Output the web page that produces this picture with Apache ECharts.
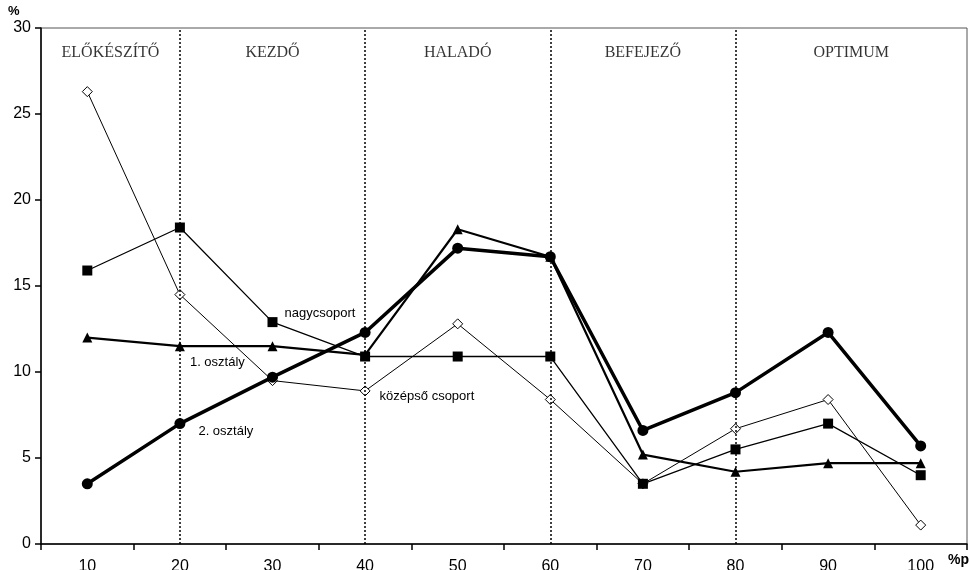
<!DOCTYPE html>
<html>
<head>
<meta charset="utf-8">
<script src="https://cdn.jsdelivr.net/npm/echarts@6/dist/echarts.min.js"></script>
<style>html,body{margin:0;padding:0;background:#fff}#c{width:970px;height:570px}</style>
</head>
<body>
<div id="c"></div>
<script>
var categories = ['10','20','30','40','50','60','70','80','90','100'];
var kozepso = [26.3, 14.5, 9.5, 8.9, 12.8, 8.4, 3.5, 6.7, 8.4, 1.1];
var nagy = [15.9, 18.4, 12.9, 10.9, 10.9, 10.9, 3.5, 5.5, 7.0, 4.0];
var osztaly1 = [12.0, 11.5, 11.5, 11.0, 18.3, 16.7, 5.2, 4.2, 4.7, 4.7];
var osztaly2 = [3.5, 7.0, 9.7, 12.3, 17.2, 16.7, 6.6, 8.8, 12.3, 5.7];
var yTicks = [0, 5, 10, 15, 20, 25, 30];
var dividers = ['20', '40', '60', '80'];
var phases = ['ELŐKÉSZÍTŐ', 'KEZDŐ', 'HALADÓ', 'BEFEJEZŐ', 'OPTIMUM'];
var phasePos = [12.5, 30, 50, 70, 92.5];
var phaseY = 28.55;

function labelled(values, idx, text, offset) {
  return values.map(function (v, i) {
    if (i !== idx) return v;
    return {
      value: v,
      label: {
        show: true, formatter: text, position: 'right',
        offset: offset, fontFamily: 'Liberation Sans, Arial', fontSize: 13, color: '#000'
      }
    };
  });
}

var chart = echarts.init(document.getElementById('c'));
chart.setOption({
  animation: false,
  grid: { left: 41, right: 3, top: 28, bottom: 26, show: true, borderColor: '#555', borderWidth: 1, containLabel: false, outerBoundsMode: 'none' },
  xAxis: [{
    type: 'category', data: categories, boundaryGap: true,
    axisLine: { lineStyle: { color: '#000', width: 1.5 } },
    axisTick: { show: true, length: 6, lineStyle: { color: '#000', width: 1.5 } },
    axisLabel: { color: '#000', fontSize: 16, fontFamily: 'Liberation Sans, Arial', margin: 15 },
    splitLine: { show: false }
  }, {
    type: 'value', min: 5, max: 105, show: false
  }],
  yAxis: {
    type: 'value', min: yTicks[0], max: yTicks[yTicks.length - 1], interval: 5,
    axisLine: { show: true, lineStyle: { color: '#000', width: 1.5 } },
    axisTick: { show: true, inside: false, length: 6, lineStyle: { color: '#000', width: 1.5 } },
    axisLabel: { color: '#000', fontSize: 16, fontFamily: 'Liberation Sans, Arial', margin: 10 },
    splitLine: { show: false }
  },
  graphic: [
    { type: 'text', left: 8, top: 5, style: { text: '%', font: 'bold 13px Liberation Sans, Arial', fill: '#000' } },
    { type: 'text', left: 948, top: 553, style: { text: '%p', font: 'bold 14px Liberation Sans, Arial', fill: '#000' } }
  ],
  series: [
    {
      name: 'divisions', type: 'line', data: [], xAxisIndex: 0, silent: true,
      markLine: {
        silent: true, symbol: ['none', 'none'], label: { show: false },
        lineStyle: { type: [2, 2], color: '#000', width: 1.5 },
        data: dividers.map(function (d) { return { xAxis: d }; })
      }
    },
    {
      name: 'phases', type: 'scatter', xAxisIndex: 1, symbolSize: 0, silent: true,
      data: phasePos.map(function (p, i) { return { value: [p, phaseY], name: phases[i] }; }),
      label: {
        show: true, position: 'inside', formatter: '{b}',
        fontFamily: 'Liberation Serif, Times New Roman', fontSize: 16, color: '#000'
      }
    },
    {
      name: 'középső csoport', type: 'line', data: labelled(kozepso, 3, 'középső csoport', [4, 6]),
      symbol: 'diamond', symbolSize: 10,
      lineStyle: { color: '#000', width: 1 },
      itemStyle: { color: '#fff', borderColor: '#000', borderWidth: 1 }, z: 3
    },
    {
      name: 'nagycsoport', type: 'line', data: labelled(nagy, 2, 'nagycsoport', [2, -9]),
      symbol: 'rect', symbolSize: 10,
      lineStyle: { color: '#000', width: 1.3 },
      itemStyle: { color: '#000' }, z: 4
    },
    {
      name: '1. osztály', type: 'line', data: labelled(osztaly1, 1, '1. osztály', [0, 16]),
      symbol: 'triangle', symbolSize: 10,
      lineStyle: { color: '#000', width: 2.2 },
      itemStyle: { color: '#000' }, z: 5
    },
    {
      name: '2. osztály', type: 'line', data: labelled(osztaly2, 1, '2. osztály', [8, 8]),
      symbol: 'circle', symbolSize: 11,
      lineStyle: { color: '#000', width: 3.5 },
      itemStyle: { color: '#000' }, z: 6
    }
  ]
});
</script>
</body>
</html>
